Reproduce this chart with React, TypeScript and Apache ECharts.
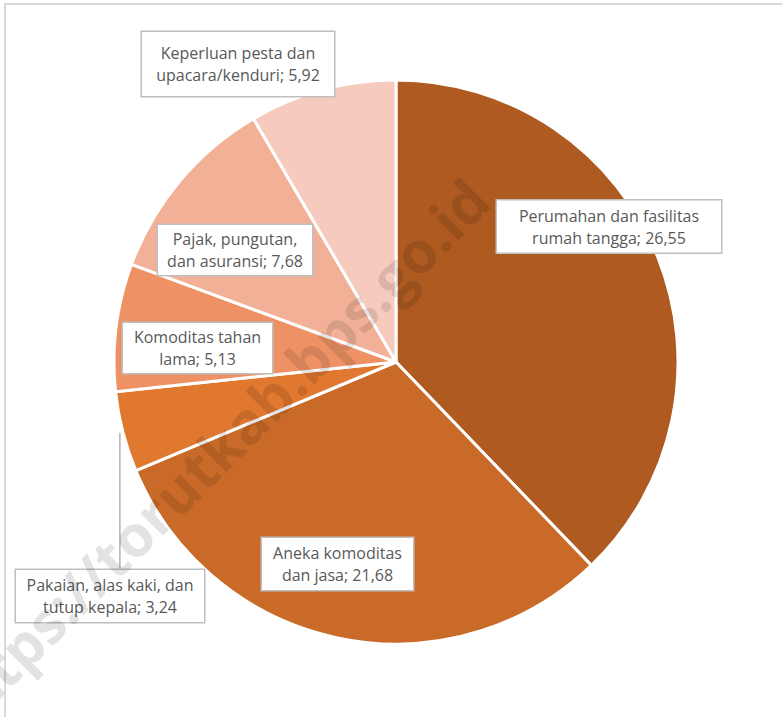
import React, { useEffect, useRef } from "react";
import * as echarts from "echarts";

const categories = [
  "Perumahan dan fasilitas\nrumah tangga",
  "Aneka komoditas\ndan jasa",
  "Pakaian, alas kaki, dan\ntutup kepala",
  "Komoditas tahan\nlama",
  "Pajak, pungutan,\ndan asuransi",
  "Keperluan pesta dan\nupacara/kenduri",
];
const values = [26.55, 21.68, 3.24, 5.13, 7.68, 5.92];
const colors = ["#AE5A21", "#C96A28", "#E0782F", "#EE9265", "#F2B197", "#F6CBBD"];

// label box layout: center x, center y, box width, vertical padding
const labelLayouts = [
  { x: 609, y: 226.5, w: 224, pv: 4 },
  { x: 337.5, y: 564, w: 151, pv: 4 },
  { x: 110, y: 596, w: 188, pv: 4 },
  { x: 197.5, y: 348, w: 149, pv: 3 },
  { x: 235, y: 250, w: 154, pv: 3 },
  { x: 238, y: 64, w: 192, pv: 10 },
];

const CX = 396;
const CY = 362;
const R = 282;
const PH = 3;

function fmt(v: number) {
  return v.toFixed(2).replace(".", ",");
}

export default function App() {
  const ref = useRef<HTMLDivElement>(null);
  useEffect(() => {
    document.body.style.margin = "0";
    if (!ref.current) return;
    const chart = echarts.init(ref.current, null, { renderer: "svg" });
    const total = values.reduce((a, b) => a + b, 0);
    const midAngles: number[] = [];
    let acc = 0;
    values.forEach((v) => {
      midAngles.push(((acc + v / 2) / total) * Math.PI * 2);
      acc += v;
    });

    const data = values.map((v, i) => ({
      value: v,
      name: categories[i],
      itemStyle: { color: colors[i] },
      label: {
        width: labelLayouts[i].w - 2 * PH,
        padding: [labelLayouts[i].pv, PH, labelLayouts[i].pv, PH],
      },
      labelLine: i === 2 ? { show: true } : { show: false },
    }));

    chart.setOption({
      animation: false,
      backgroundColor: "#ffffff",
      graphic: [
        {
          type: "rect",
          shape: { x: 5, y: 4, width: 900, height: 900 },
          style: { fill: "none", stroke: "#d9d9d9", lineWidth: 2 },
          z: 0,
        },
        {
          type: "text",
          x: 212,
          y: 455,
          rotation: Math.PI / 4,
          z: 100,
          style: {
            text: "https://torutkab.bps.go.id",
            font: "bold 58px 'Open Sans', sans-serif",
            fill: "rgba(0,0,0,0.11)",
            align: "center",
            verticalAlign: "middle",
          },
        },
      ],
      series: [
        {
          type: "pie",
          center: [CX, CY],
          radius: R,
          startAngle: 90,
          clockwise: true,
          avoidLabelOverlap: false,
          itemStyle: { borderColor: "#ffffff", borderWidth: 3 },
          label: {
            show: true,
            position: "outside",
            formatter: (p: any) => p.name + "; " + fmt(p.value),
            color: "#595959",
            fontSize: 16,
            fontFamily: "'Open Sans', sans-serif",
            lineHeight: 22,
            align: "center",
            overflow: "none",
            backgroundColor: "#ffffff",
            borderColor: "#bfbfbf",
            borderWidth: 1.5,
          },
          labelLine: {
            show: false,
            lineStyle: { color: "#a6a6a6", width: 1.3 },
          },
          labelLayout: (params: any) => {
            const i = params.dataIndex;
            const L = labelLayouts[i];
            const out: any = {
              x: L.x,
              y: L.y,
              align: "center",
              verticalAlign: "middle",
            };
            if (i === 2) {
              const a = midAngles[i];
              const sx = CX + (R + 3) * Math.sin(a);
              const sy = CY - (R + 3) * Math.cos(a);
              const top = L.y - params.labelRect.height / 2;
              out.labelLinePoints = [
                [sx, sy],
                [sx, (sy + top) / 2],
                [sx, top],
              ];
            }
            return out;
          },
          data,
        },
      ],
    });
    return () => chart.dispose();
  }, []);
  return <div ref={ref} style={{ width: 782, height: 717 }} />;
}
